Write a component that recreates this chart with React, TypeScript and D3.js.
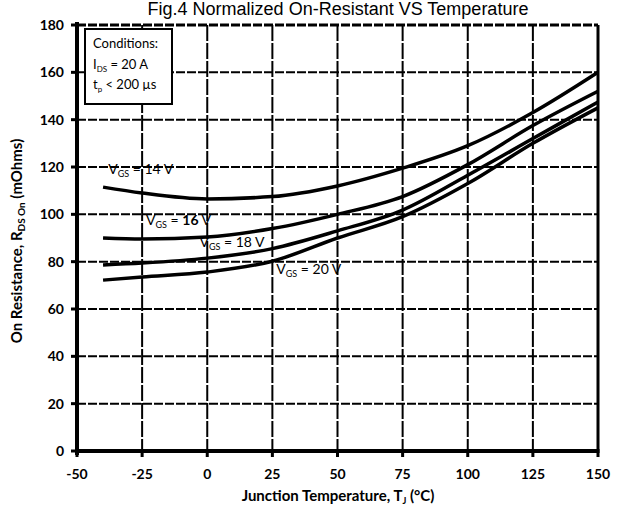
import React from "react";
import * as d3 from "d3";

const temps = [-40, -25, 0, 25, 50, 75, 100, 125, 150];
const vgs14 = [111.5, 109, 106.5, 107.5, 112, 119.5, 129, 143, 160];
const vgs16 = [90, 89.6, 90.4, 94, 100, 107.5, 121, 137.5, 152];
const vgs18 = [78.6, 79.4, 81.5, 85.5, 93, 101.8, 116.5, 132, 147.5];
const vgs20 = [72.2, 73.5, 75.6, 80.2, 90, 99, 113, 130, 145];
const xTicks = [-50, -25, 0, 25, 50, 75, 100, 125, 150];
const yTicks = [0, 20, 40, 60, 80, 100, 120, 140, 160, 180];
const seriesLabels = ["14", "16", "18", "20"];

const W = 619;
const H = 508;
const FONT = "Lato, 'Open Sans', sans-serif";

export default function App() {
  const x = d3.scaleLinear().domain([-50, 150]).range([77, 598]);
  const y = d3.scaleLinear().domain([0, 180]).range([451, 25]);
  const line = d3
    .line<number>()
    .x((_, i) => x(temps[i]))
    .y((d) => y(d))
    .curve(d3.curveMonotoneX);
  const series = [vgs14, vgs16, vgs18, vgs20];
  const labelPos = [
    { t: -38, v: 117 },
    { t: -23.5, v: 95.5 },
    { t: -3, v: 86 },
    { t: 26.5, v: 75 },
  ];

  return (
    <svg
      width={W}
      height={H}
      style={{ position: "absolute", left: 0, top: 0, background: "#fff" }}
      fontFamily={FONT}
    >
      <rect x={0} y={0} width={W} height={H} fill="#fff" />
      <text
        x={338}
        y={15}
        textAnchor="middle"
        fontFamily="'Liberation Sans', Arial, sans-serif"
        fontSize={18}
        fill="#000"
      >
        Fig.4 Normalized On-Resistant VS Temperature
      </text>

      {/* horizontal grid */}
      {yTicks
        .filter((t) => t > 0)
        .map((t) => (
          <line
            key={"h" + t}
            x1={x(-50)}
            x2={x(150)}
            y1={y(t)}
            y2={y(t)}
            stroke="#000"
            strokeWidth={t === 180 ? 3 : 2}
            strokeDasharray="9,2"
          />
        ))}
      {/* vertical grid */}
      {xTicks
        .filter((t) => t > -50 && t < 150)
        .map((t) => (
          <line
            key={"v" + t}
            x1={x(t)}
            x2={x(t)}
            y1={y(180)}
            y2={y(0)}
            stroke="#000"
            strokeWidth={2}
            strokeDasharray="16,2"
          />
        ))}
      {/* right border */}
      <line x1={x(150)} x2={x(150)} y1={y(180)} y2={y(0)} stroke="#000" strokeWidth={3} />

      {/* conditions box */}
      <rect x={85} y={29} width={87} height={75} fill="#fff" stroke="#000" strokeWidth={2} />
      <text x={93} y={48} fontSize={13} fill="#000">Conditions:</text>
      <text x={93} y={69} fontSize={13} fill="#000">
        I<tspan fontSize={8} dy={3}>DS</tspan>
        <tspan dy={-3}> = 20 A</tspan>
      </text>
      <text x={93} y={89} fontSize={13} fill="#000">
        t<tspan fontSize={8} dy={3}>p</tspan>
        <tspan dy={-3}> &lt; 200 µs</tspan>
      </text>

      {/* curves */}
      {series.map((s, i) => (
        <path key={"c" + i} d={line(s) || ""} fill="none" stroke="#000" strokeWidth={3.5} />
      ))}
      {series.map((s, i) => (
        <text
          key={"l" + i}
          x={x(labelPos[i].t)}
          y={y(labelPos[i].v)}
          fontSize={14}
          fill="#000"
        >
          V<tspan fontSize={9} dy={3}>GS</tspan>
          <tspan dy={-3}> = </tspan>
          <tspan fontWeight={i === 1 ? "bold" : "normal"}>{seriesLabels[i]}</tspan>
          <tspan> V</tspan>
        </text>
      ))}

      {/* axes */}
      <line x1={x(-50)} x2={x(-50)} y1={y(180) - 3} y2={y(0) + 4} stroke="#000" strokeWidth={4} />
      <line x1={x(-50) - 2} x2={x(150) + 1.5} y1={y(0)} y2={y(0)} stroke="#000" strokeWidth={4} />
      {xTicks.map((t) => (
        <line key={"xt" + t} x1={x(t)} x2={x(t)} y1={y(0)} y2={y(0) + 6} stroke="#000" strokeWidth={3} />
      ))}
      {yTicks.map((t) => (
        <line key={"yt" + t} x1={x(-50) - 6} x2={x(-50)} y1={y(t)} y2={y(t)} stroke="#000" strokeWidth={3} />
      ))}
      {xTicks.map((t) => (
        <text key={"xl" + t} x={x(t)} y={479} textAnchor="middle" fontSize={14} fontWeight="bold" fill="#000">
          {t}
        </text>
      ))}
      {yTicks.map((t) => (
        <text key={"yl" + t} x={64} y={y(t) + 5} textAnchor="end" fontSize={14} fontWeight="bold" fill="#000">
          {t}
        </text>
      ))}
      <text x={338} y={501} textAnchor="middle" fontSize={15} fontWeight="bold" fill="#000">
        Junction Temperature, T<tspan fontSize={9} dy={3}>J</tspan>
        <tspan dy={-3}> (°C)</tspan>
      </text>
      <text
        transform="translate(22,241) rotate(-90)"
        textAnchor="middle"
        fontSize={15}
        fontWeight="bold"
        fill="#000"
      >
        On Resistance, R<tspan fontSize={10} dy={3}>DS On</tspan>
        <tspan dy={-3}> (mOhms)</tspan>
      </text>
    </svg>
  );
}
